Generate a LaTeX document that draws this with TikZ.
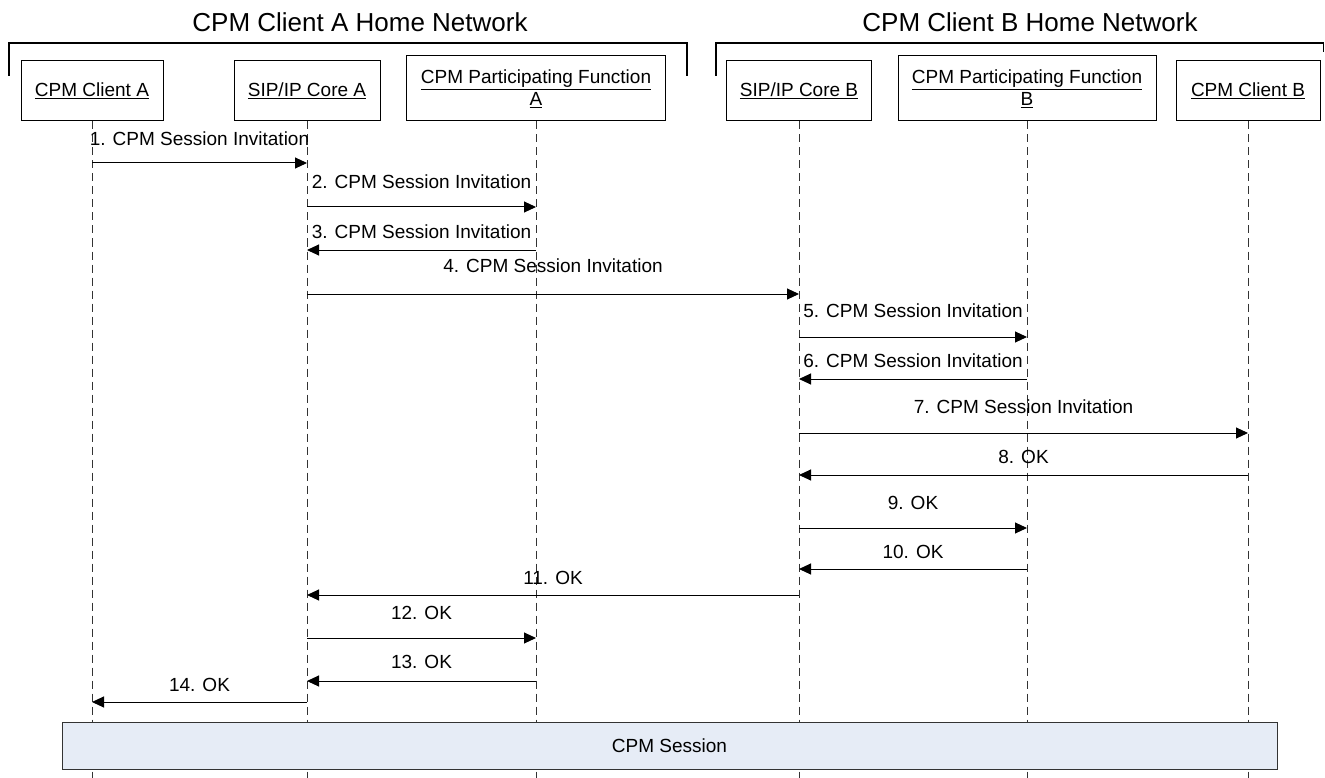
\documentclass[tikz,border=0pt]{standalone}
\usepackage{fontspec}
\setmainfont{Liberation Sans}
\usetikzlibrary{arrows.meta}
\begin{document}
\begin{tikzpicture}[x=1pt,y=-1pt,
  actor/.style={draw=black, line width=1pt, fill=white, inner sep=0pt, align=center,
    font=\fontsize{19}{22}\selectfont, minimum height=60pt},
  pfbox/.style={actor, minimum height=65pt},
  life/.style={draw=black!80, line width=1pt, dash pattern=on 8pt off 5pt},
  msg/.style={draw=black, line width=1pt, -{Triangle[length=12pt,width=11pt]}},
  lbl/.style={inner sep=0pt, font=\fontsize{19}{22}\selectfont},
  bracketline/.style={draw=black, line width=1.4pt},
  title/.style={inner sep=0pt, font=\fontsize{26}{30}\selectfont},
  sess/.style={draw=black!80, line width=1pt, fill=sessfill, inner sep=0pt,
    minimum width=1215pt, minimum height=47pt, font=\fontsize{19}{22}\selectfont}
]
\definecolor{sessfill}{HTML}{E6ECF6}
\useasboundingbox (0,0) rectangle (1325,778);
\coordinate (bot) at (0,778);

% titles and brackets
\node[title] (tA) at (360,22) {CPM Client A Home Network};
\node[title] (tB) at (1030,22) {CPM Client B Home Network};
\coordinate (bA1) at (9,76);
\coordinate (bA2) at (9,43);
\coordinate (bA3) at (687,43);
\coordinate (bA4) at (687,76);
\draw[bracketline] (bA1) -- (bA2) -- (bA3) -- (bA4);
\coordinate (bB1) at (716,76);
\coordinate (bB2) at (716,43);
\coordinate (bB3) at (1323.5,43);
\coordinate (bB4) at (1323.5,52);
\draw[bracketline] (bB1) -- (bB2) -- (bB3) -- (bB4);

% actor boxes
\node[actor, minimum width=142pt] (ca) at (92,91) {\underline{CPM Client A}};
\node[actor, minimum width=146pt] (sa) at (307,91) {\underline{SIP/IP Core A}};
\node[pfbox, minimum width=259pt] (pa) at (536,88.5) {\underline{CPM Participating Function}\\\underline{A}};
\node[actor, minimum width=145pt] (sb) at (799,91) {\underline{SIP/IP Core B}};
\node[pfbox, minimum width=258pt] (pb) at (1027,88.5) {\underline{CPM Participating Function}\\\underline{B}};
\node[actor, minimum width=144pt] (cb) at (1248,91) {\underline{CPM Client B}};

% lifelines
\foreach \n in {ca,sa,pa,sb,pb,cb} {
  \draw[life] (\n.south) -- (\n.south |- bot);
}

% message levels
\coordinate (y1) at (0,163);
\coordinate (y2) at (0,207);
\coordinate (y3) at (0,250);
\coordinate (y4) at (0,294);
\coordinate (y5) at (0,337);
\coordinate (y6) at (0,379);
\coordinate (y7) at (0,433);
\coordinate (y8) at (0,475);
\coordinate (y9) at (0,528);
\coordinate (y10) at (0,569);
\coordinate (y11) at (0,595);
\coordinate (y12) at (0,638);
\coordinate (y13) at (0,681);
\coordinate (y14) at (0,702);

\draw[msg] (ca |- y1) -- node[lbl, yshift=24pt] (l1) {1. CPM Session Invitation} (sa |- y1);
\draw[msg] (sa |- y2) -- node[lbl, yshift=25pt] (l2) {2. CPM Session Invitation} (pa |- y2);
\draw[msg] (pa |- y3) -- node[lbl, yshift=18pt] (l3) {3. CPM Session Invitation} (sa |- y3);
\draw[msg] (sa |- y4) -- node[lbl, yshift=28pt] (l4) {4. CPM Session Invitation} (sb |- y4);
\draw[msg] (sb |- y5) -- node[lbl, yshift=26pt] (l5) {5. CPM Session Invitation} (pb |- y5);
\draw[msg] (pb |- y6) -- node[lbl, yshift=18pt] (l6) {6. CPM Session Invitation} (sb |- y6);
\draw[msg] (sb |- y7) -- node[lbl, yshift=26pt] (l7) {7. CPM Session Invitation} (cb |- y7);
\draw[msg] (cb |- y8) -- node[lbl, yshift=18pt] (l8) {8. OK} (sb |- y8);
\draw[msg] (sb |- y9) -- node[lbl, yshift=25pt] (l9) {9. OK} (pb |- y9);
\draw[msg] (pb |- y10) -- node[lbl, yshift=17pt] (l10) {10. OK} (sb |- y10);
\draw[msg] (sb |- y11) -- node[lbl, yshift=17pt] (l11) {11. OK} (sa |- y11);
\draw[msg] (sa |- y12) -- node[lbl, yshift=25pt] (l12) {12. OK} (pa |- y12);
\draw[msg] (pa |- y13) -- node[lbl, yshift=19pt] (l13) {13. OK} (sa |- y13);
\draw[msg] (sa |- y14) -- node[lbl, yshift=17pt] (l14) {14. OK} (ca |- y14);

% session bar
\node[sess] (cs) at (669.5,745.5) {CPM Session};
\end{tikzpicture}
\end{document}
